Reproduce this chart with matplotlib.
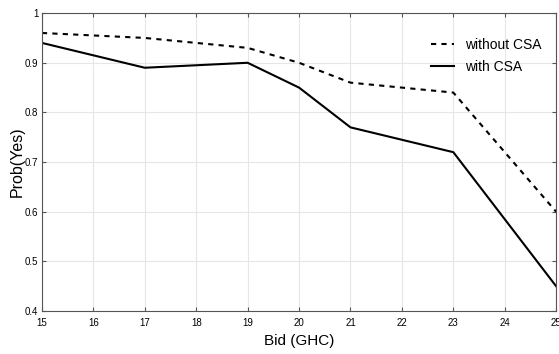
import matplotlib
matplotlib.use("Agg")
import matplotlib.pyplot as plt

# Bid values and acceptance probabilities
bids = [15, 17, 19, 20, 21, 23, 25]
without_csa = [0.96, 0.95, 0.93, 0.90, 0.86, 0.84, 0.60]
with_csa = [0.94, 0.89, 0.90, 0.85, 0.77, 0.72, 0.45]

x_ticks = list(range(15, 26))
y_ticks = [0.4, 0.5, 0.6, 0.7, 0.8, 0.9, 1.0]
y_tick_labels = ["0.4", "0.5", "0.6", "0.7", "0.8", "0.9", "1"]

plt.rcParams["font.family"] = ["Liberation Sans Narrow", "Liberation Sans", "DejaVu Sans"]

fig = plt.figure(figsize=(5.59, 3.54), dpi=100)
ax = fig.add_axes([0.075, 0.121, 0.920, 0.842])

ax.plot(bids, without_csa, color="black", linestyle=(0, (2.5, 2.5)), linewidth=1.5, label="without CSA")
ax.plot(bids, with_csa, color="black", linestyle="-", linewidth=1.5, label="with CSA")

ax.set_xlim(15, 25)
ax.set_ylim(0.4, 1.0)
ax.set_xticks(x_ticks)
ax.set_yticks(y_ticks)
ax.set_yticklabels(y_tick_labels)
ax.tick_params(direction="in", top=True, right=True, labelsize=7, length=3, color="#555555")
ax.tick_params(axis="x", pad=5)
ax.tick_params(axis="y", pad=2.5)
ax.grid(True, color="#e6e6e6", linewidth=0.8)
for spine in ax.spines.values():
    spine.set_color("#555555")
    spine.set_linewidth(0.8)

ax.set_xlabel("Bid (GHC)", fontsize=11, labelpad=4)
ax.set_ylabel("Prob(Yes)", fontsize=11.5, labelpad=0.5)

ax.legend(loc="upper right", frameon=False, fontsize=10, handlelength=1.6,
          handletextpad=0.8, labelspacing=0.6, bbox_to_anchor=(0.995, 0.96))

fig.savefig("out.png", dpi=100)
